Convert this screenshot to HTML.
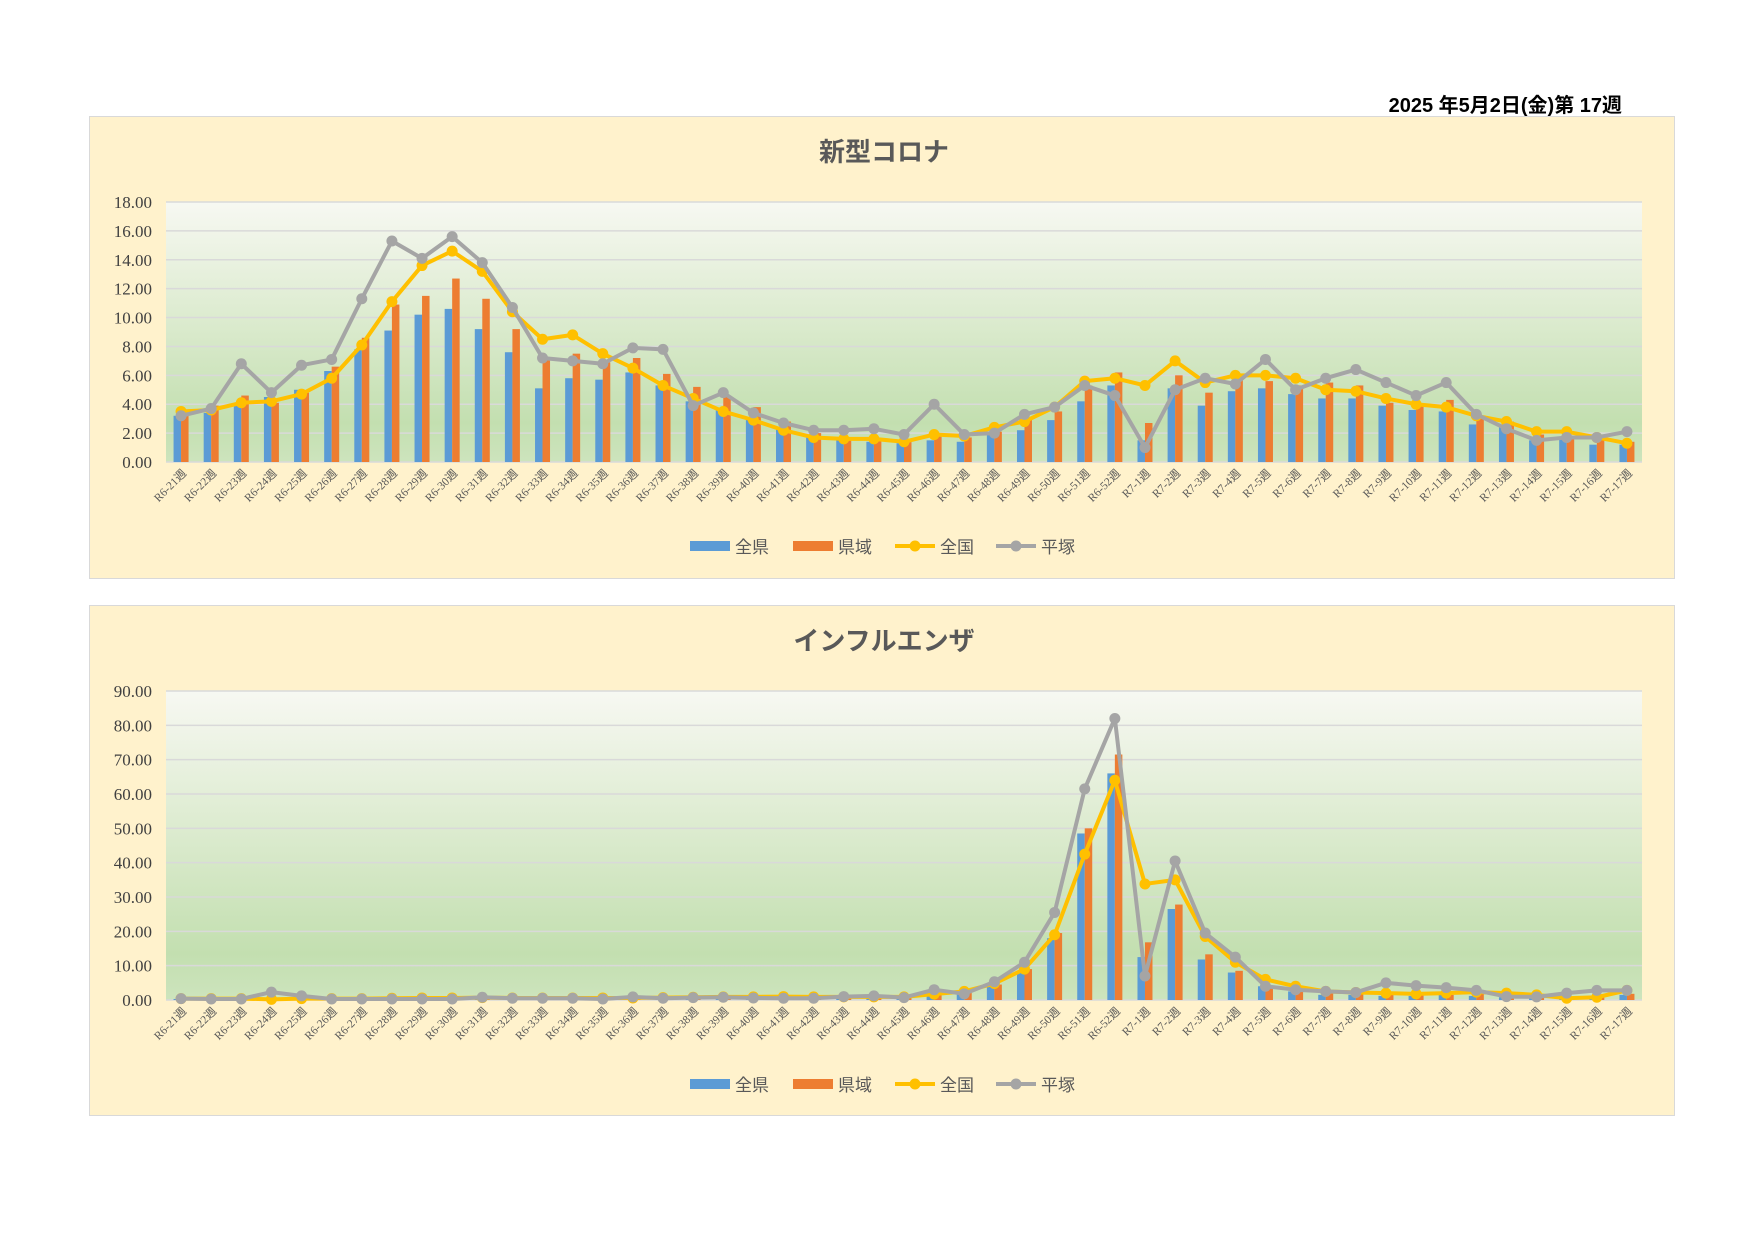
<!DOCTYPE html>
<html><head><meta charset="utf-8">
<style>
body{margin:0;width:1754px;height:1240px;background:#fff;overflow:hidden;font-family:"Liberation Sans","Noto Sans CJK JP",sans-serif}
#date{position:absolute;left:1300px;top:89px;width:322px;text-align:right;font-size:20px;font-weight:bold;color:#000}
.panel{position:absolute;left:89px;width:1584px;background:#fff2cc;border:1px solid #d9d9d9}
svg{position:absolute;left:0;top:0}
</style></head><body>
<div id="date">2025 年5月2日(金)第 17週</div>
<div class="panel" style="top:116px;height:461px"></div>
<div class="panel" style="top:605px;height:509px"></div>
<svg id="svg" width="1754" height="1240" xmlns="http://www.w3.org/2000/svg">
<defs>
<linearGradient id="g" x1="0" y1="0" x2="0" y2="1">
<stop offset="0" stop-color="#f7f8f2"/><stop offset="0.45" stop-color="#dcebcf"/><stop offset="0.85" stop-color="#c3dfb0"/><stop offset="1" stop-color="#cde4bd"/>
</linearGradient>
</defs>
</svg>
<script>
const categories = ["R6-21週","R6-22週","R6-23週","R6-24週","R6-25週","R6-26週","R6-27週","R6-28週","R6-29週","R6-30週","R6-31週","R6-32週","R6-33週","R6-34週","R6-35週","R6-36週","R6-37週","R6-38週","R6-39週","R6-40週","R6-41週","R6-42週","R6-43週","R6-44週","R6-45週","R6-46週","R6-47週","R6-48週","R6-49週","R6-50週","R6-51週","R6-52週","R7-1週","R7-2週","R7-3週","R7-4週","R7-5週","R7-6週","R7-7週","R7-8週","R7-9週","R7-10週","R7-11週","R7-12週","R7-13週","R7-14週","R7-15週","R7-16週","R7-17週"];
const seriesNames = ["全県","県域","全国","平塚"];
const covidZenken = [3.2,3.4,4.0,4.5,5.0,6.3,7.8,9.1,10.2,10.6,9.2,7.6,5.1,5.8,5.7,6.2,5.3,4.2,3.6,3.0,2.4,1.8,1.5,1.4,1.3,1.5,1.4,2.0,2.2,2.9,4.2,5.3,1.5,5.1,3.9,4.9,5.1,4.7,4.4,4.4,3.9,3.6,3.5,2.6,2.4,1.5,1.6,1.2,1.2];
const covidKeniki = [3.4,3.9,4.6,4.1,4.8,6.6,8.6,10.9,11.5,12.7,11.3,9.2,7.1,7.5,6.9,7.2,6.1,5.2,4.6,3.8,2.8,2.0,1.7,1.6,1.5,1.9,1.7,2.1,3.0,3.5,5.3,6.2,2.7,6.0,4.8,5.7,5.6,5.3,5.5,5.3,4.1,4.0,4.3,3.2,2.8,1.9,1.8,1.6,1.4];
const covidZenkoku = [3.5,3.6,4.1,4.2,4.7,5.8,8.1,11.1,13.6,14.6,13.2,10.4,8.5,8.8,7.5,6.5,5.3,4.4,3.5,2.9,2.2,1.7,1.6,1.6,1.4,1.9,1.8,2.4,2.8,3.8,5.6,5.8,5.3,7.0,5.5,6.0,6.0,5.8,5.0,4.9,4.4,4.0,3.8,3.2,2.8,2.1,2.1,1.7,1.3];
const covidHiratsuka = [3.2,3.7,6.8,4.8,6.7,7.1,11.3,15.3,14.1,15.6,13.8,10.7,7.2,7.0,6.8,7.9,7.8,3.9,4.8,3.4,2.7,2.2,2.2,2.3,1.9,4.0,1.9,2.0,3.3,3.8,5.3,4.6,1.0,5.0,5.8,5.4,7.1,5.0,5.8,6.4,5.5,4.6,5.5,3.3,2.3,1.5,1.7,1.7,2.1];
const fluZenken = [0.3,0.3,0.3,0.3,0.3,0.3,0.3,0.3,0.3,0.3,0.4,0.3,0.3,0.3,0.3,0.3,0.3,0.3,0.4,0.4,0.4,0.4,0.5,0.5,0.6,1.2,1.8,4.0,8.0,18.0,48.5,66.0,12.5,26.5,11.8,8.0,4.0,2.5,1.5,1.5,1.2,1.2,1.5,1.2,0.8,0.8,0.8,0.8,1.5];
const fluKeniki = [0.4,0.4,0.4,0.4,0.4,0.4,0.4,0.4,0.4,0.4,0.5,0.4,0.4,0.4,0.4,0.4,0.4,0.4,0.5,0.5,0.5,0.5,0.6,0.6,0.7,1.5,2.2,4.5,9.0,19.5,50.0,71.5,16.8,27.8,13.3,8.5,4.0,2.8,2.0,1.8,1.5,1.5,1.5,1.8,1.0,1.0,1.0,1.2,1.8];
const fluZenkoku = [0.4,0.4,0.4,0.2,0.4,0.4,0.4,0.5,0.6,0.6,0.7,0.6,0.6,0.6,0.6,0.6,0.7,0.8,0.9,0.9,1.0,0.9,0.9,0.9,0.9,1.7,2.5,4.8,9.0,19.0,42.5,64.0,33.8,35.0,18.5,11.0,6.0,4.0,2.5,2.2,2.0,1.8,2.0,2.3,2.0,1.5,0.5,0.8,2.8];
const fluHiratsuka = [0.4,0.3,0.3,2.3,1.2,0.3,0.3,0.3,0.3,0.3,0.8,0.5,0.5,0.5,0.3,0.9,0.5,0.7,0.8,0.6,0.5,0.5,1.0,1.2,0.7,3.0,1.8,5.3,11.0,25.5,61.5,82.0,7.0,40.5,19.5,12.5,4.0,3.0,2.5,2.2,5.0,4.2,3.6,2.8,1.0,0.9,2.0,2.8,2.8];
const covidTicks = ["0.00","2.00","4.00","6.00","8.00","10.00","12.00","14.00","16.00","18.00"];
const fluTicks = ["0.00","10.00","20.00","30.00","40.00","50.00","60.00","70.00","80.00","90.00"];

const svg=document.getElementById('svg');
const NS='http://www.w3.org/2000/svg';
function mk(tag,attrs,parent){const e=document.createElementNS(NS,tag);for(const k in attrs)e.setAttribute(k,attrs[k]);(parent||svg).appendChild(e);return e;}
const colors=["#5b9bd5","#ed7d31","#ffc000","#a5a5a5"];

function drawChart(cfg){
  const g=mk('g',{});
  
  
  const L=166,R=1642,T=cfg.top,B=cfg.bottom;
  const tickVals=cfg.ticks.map(Number);
  const maxV=tickVals[tickVals.length-1];
  const y=v=>B-(v/maxV)*(B-T);
  const n=categories.length, cw=(R-L)/n;
  const x=i=>L+cw*(i+0.5);
  const t=mk('text',{x:(L+R)/2-20,y:cfg.titleY,'text-anchor':'middle','font-size':'26','font-weight':'bold',fill:'#595959'},g);
  t.textContent=cfg.title;
  
  
  const bg=mk('rect',{x:L,y:T,width:R-L,height:B-T,fill:'url(#g)'},g);
  
  
  cfg.ticks.forEach((lab,i)=>{
    const yy=y(tickVals[i]);
    mk('line',{x1:L,x2:R,y1:yy,y2:yy,stroke:'#d9d9d9','stroke-width':'1.5'},g);
    const tl=mk('text',{x:L-14,y:yy+6,'text-anchor':'end','font-size':'17','font-family':'Liberation Serif, serif',fill:'#404040'},g);
    tl.textContent=lab;
    
    
  });
  const bw=7.5;
  cfg.data.slice(0,2).forEach((arr,s)=>{
    arr.forEach((v,i)=>{
      const bx=x(i)-bw+(s*bw);
      const r=mk('rect',{x:bx,y:y(v),width:bw,height:B-y(v),fill:colors[s]},g);
      
      
    });
  });
  cfg.data.slice(2).forEach((arr,k)=>{
    const s=k+2;
    const pts=arr.map((v,i)=>x(i)+','+y(v)).join(' ');
    const pl=mk('polyline',{points:pts,fill:'none',stroke:colors[s],'stroke-width':'4','stroke-linejoin':'round'},g);
    
    
    arr.forEach((v,i)=>{
      const c=mk('circle',{cx:x(i),cy:y(v),r:5.5,fill:colors[s]},g);
      
      
    });
  });
  categories.forEach((c,i)=>{
    const tx=x(i)+6, ty=B+12;
    const tl=mk('text',{x:tx,y:ty,'text-anchor':'end','font-size':'11.5','font-family':'Liberation Serif, serif',fill:'#595959',transform:'rotate(-45 '+tx+' '+ty+')'},g);
    tl.textContent=c;
    
    
  });
  // legend
  const ly=cfg.legendY;
  const lx=[690,793,895,996];
  seriesNames.forEach((nm,s)=>{
    const lg=mk('g',{},g);
    
    
    if(s<2){mk('rect',{x:lx[s],y:ly-5,width:40,height:10,fill:colors[s]},lg);}
    else{mk('line',{x1:lx[s],x2:lx[s]+40,y1:ly,y2:ly,stroke:colors[s],'stroke-width':'4'},lg);mk('circle',{cx:lx[s]+20,cy:ly,r:5.5,fill:colors[s]},lg);}
    const tt=mk('text',{x:lx[s]+45,y:ly+7,'font-size':'17',fill:'#595959','font-family':'Liberation Sans, Noto Sans CJK JP, sans-serif'},lg);
    tt.textContent=nm;
  });
}
drawChart({name:'covid-chart',title:'新型コロナ',titleY:161,top:202,bottom:462,ticks:covidTicks,legendY:546,
  data:[covidZenken,covidKeniki,covidZenkoku,covidHiratsuka]});
drawChart({name:'influenza-chart',title:'インフルエンザ',titleY:650,top:691,bottom:1000,ticks:fluTicks,legendY:1084,
  data:[fluZenken,fluKeniki,fluZenkoku,fluHiratsuka]});
</script>
</body></html>
